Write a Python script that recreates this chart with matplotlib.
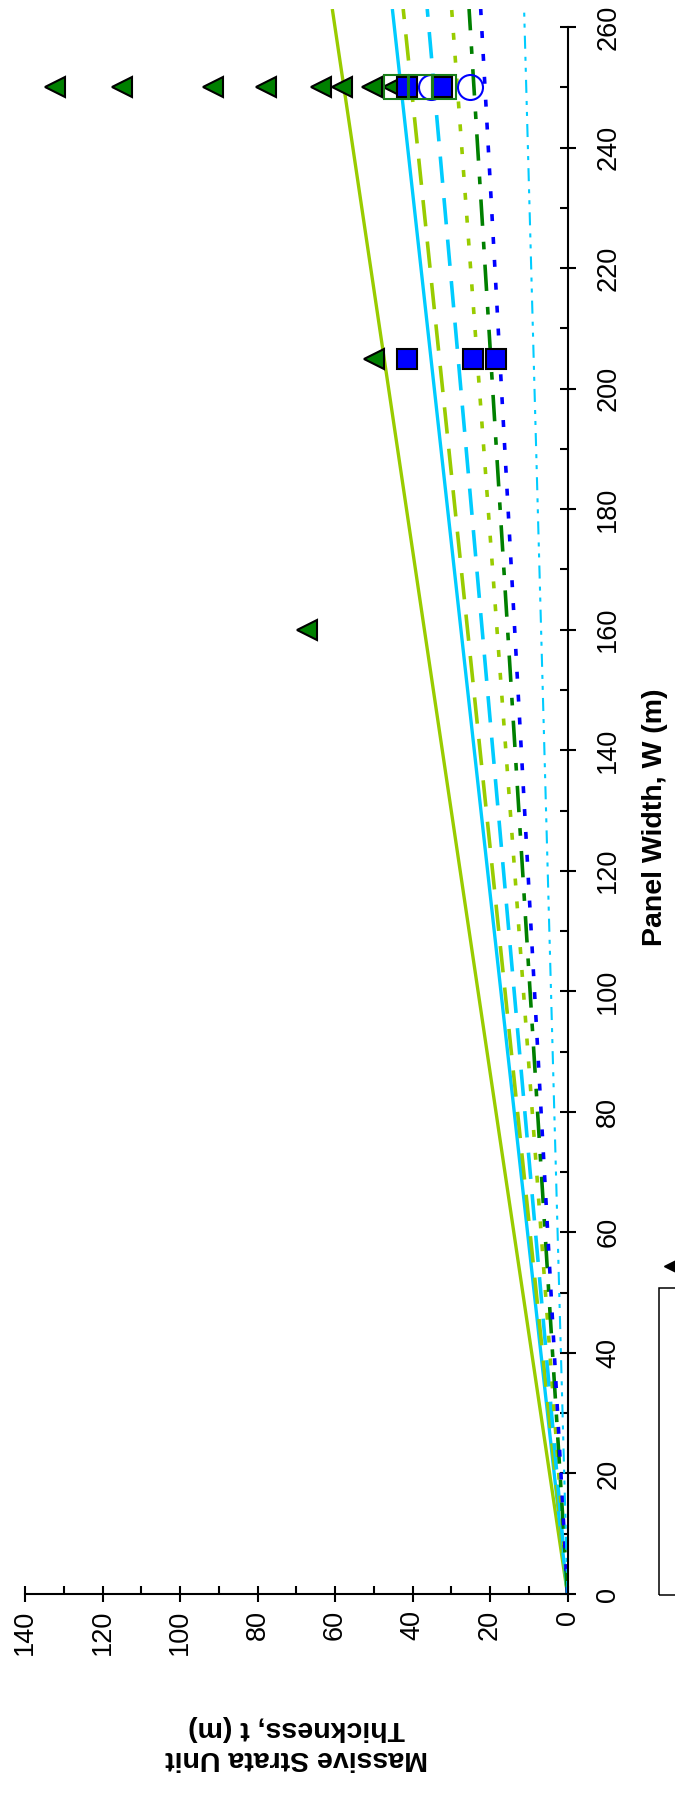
import matplotlib
matplotlib.use("Agg")
import matplotlib.pyplot as plt
from matplotlib.ticker import MultipleLocator
from matplotlib.patches import Rectangle
from matplotlib.lines import Line2D

plt.rcParams['font.family'] = ['Liberation Sans', 'DejaVu Sans']
plt.rcParams['lines.scale_dashes'] = False

# panel width range of the guide lines and thickness reached at its end
line_w = [0, 263]
line_t_end = [60.7, 45.2, 42.4, 36.2, 29.9, 25.4, 22.4, 11.2]
line_colors = ['#99CC00', '#00CCFF', '#99CC00', '#00CCFF', '#99CC00', '#008000', '#0000FF', '#00CCFF']
line_dashes = [None, None, (19, 11), (19, 11), (5, 11.5), (19, 11, 5.5, 11.5), (5, 11.5),
               (9.4, 5.8, 2.9, 5, 2.9, 5.8)]
line_widths = [2.4, 2.4, 2.6, 2.6, 2.6, 2.6, 2.6, 1.5]

# case histories
tri_w = [250, 250, 250, 250, 250, 250, 250, 250, 205, 160]
tri_t = [132.3, 115.0, 91.6, 77.9, 63.5, 58.3, 50.4, 45.0, 50.0, 67.3]
sq_w = [205, 205, 205, 250, 250]
sq_t = [41.5, 24.4, 18.5, 41.5, 32.5]
circ_w = [250, 250]
circ_t = [35.1, 25.2]
osq_w = [250, 250, 250]
osq_t = [44.3, 37.9, 31.8]

fig = plt.figure(figsize=(6.75, 17.98), dpi=100)
ax = fig.add_axes([25 / 675, 204 / 1798, 542.5 / 675, 1585 / 1798])

for t_end, c, d, lw in zip(line_t_end, line_colors, line_dashes, line_widths):
    ln, = ax.plot([0, t_end], line_w, color=c, lw=lw, solid_capstyle='butt', dash_capstyle='butt')
    if d is not None:
        ln.set_dashes(d)

ax.plot(tri_t, tri_w, ls='none', marker='<', ms=15, mfc='#008000', mec='black', mew=1.5)
ax.plot(circ_t, circ_w, ls='none', marker='o', ms=18, mfc='none', mec='#0000FF', mew=1.5)
ax.plot(sq_t, sq_w, ls='none', marker='s', ms=15, mfc='#0000FF', mec='black', mew=1.5)
ax.plot(osq_t, osq_w, ls='none', marker='s', ms=17.5, mfc='none', mec='#1a7f1a', mew=1.5)

ax.set_xlim(140, 0)
ax.set_ylim(0, 263)
ax.spines['top'].set_visible(False)
ax.spines['left'].set_visible(False)
ax.spines['right'].set_bounds(0, 260)
for s in ['bottom', 'right']:
    ax.spines[s].set_linewidth(1.5)
ax.yaxis.tick_right()
ax.yaxis.set_label_position('right')

ax.xaxis.set_major_locator(MultipleLocator(20))
ax.xaxis.set_minor_locator(MultipleLocator(10))
ax.set_yticks(range(0, 261, 20))
ax.set_yticks(range(0, 261, 10), minor=True)
ax.tick_params(which='major', direction='inout', length=12, width=1.5, labelsize=19.5)
ax.tick_params(which='minor', direction='in', length=6, width=1.5)
ax.tick_params(axis='x', labelrotation=90, pad=5.5)
ax.tick_params(axis='y', labelrotation=90, pad=14)
for lab in ax.get_yticklabels():
    lab.set_va('center')

ax.set_xlabel('Massive Strata Unit\nThickness, t (m)', fontsize=20.5, fontweight='bold',
              rotation=180, va='center', ha='center')
ax.xaxis.set_label_coords(0.5, -0.094)
ax.set_ylabel('Panel Width, W (m)', fontsize=20.5, fontweight='bold', rotation=90,
              va='center', ha='center')
ax.yaxis.set_label_coords(1.161, 0.49)

# legend frame cut off at the figure edge
fig.add_artist(Rectangle((659 / 675, 203 / 1798), 100 / 675, 307 / 1798, fill=False,
                         ec='black', lw=1.1, transform=fig.transFigure, clip_on=False))
fig.add_artist(Line2D([671 / 675], [532 / 1798], marker='<', ms=10, color='black',
                      transform=fig.transFigure))

fig.savefig('out.png', dpi=100)
